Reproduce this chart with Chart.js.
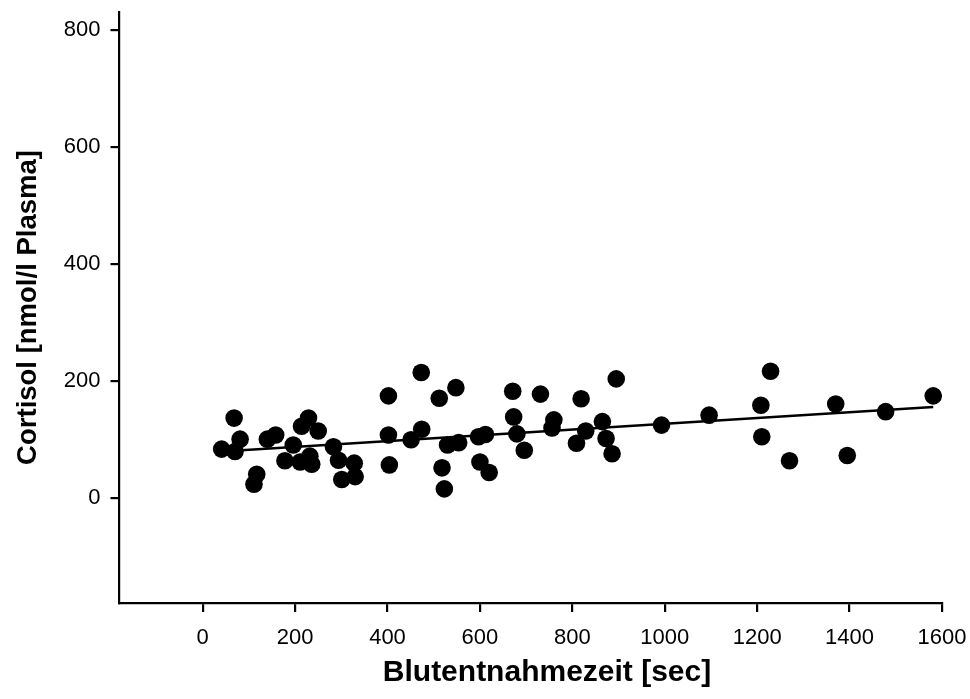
<!DOCTYPE html>
<html>
<head>
<meta charset="utf-8">
<script src="https://cdn.jsdelivr.net/npm/chart.js@4/dist/chart.umd.min.js"></script>
<style>
  html, body { margin: 0; padding: 0; background: #ffffff; }
  #wrap { width: 970px; height: 699px; }
</style>
</head>
<body>
<div id="wrap"><canvas id="c" width="970" height="699"></canvas></div>
<script>
// Blood sampling time [sec]
const timeSec = [41, 68, 70, 81, 117, 111, 140, 158, 178, 196, 214, 229, 250, 211, 232, 236,
  283, 294, 301, 328, 330, 402, 402, 404, 451, 474, 473, 512, 548, 530, 554, 597, 612,
  518, 523, 600, 620, 671, 673, 680, 696, 731, 760, 756, 819, 809, 829, 895, 865, 873,
  886, 993, 1096, 1229, 1208, 1210, 1270, 1370, 1395, 1478, 1581];
// Cortisol [nmol/l Plasma]
const cortisol = [84, 137, 80, 101, 41, 24, 101, 108, 64, 91, 123, 137, 115, 62, 72, 58,
  88, 65, 32, 60, 37, 175, 108, 57, 100, 118, 215, 171, 189, 91, 95, 105, 109,
  52, 16, 62, 44, 183, 139, 110, 82, 178, 134, 120, 170, 94, 115, 204, 131, 102,
  76, 125, 142, 217, 159, 105, 64, 161, 73, 148, 175];
// Regression line end points
const fitX = [41, 1581];
const fitY = [80, 156];
// Axis ticks
const xTicks = [0, 200, 400, 600, 800, 1000, 1200, 1400, 1600];
const yTicks = [0, 200, 400, 600, 800];
const xTitle = 'Blutentnahmezeit [sec]';
const yTitle = 'Cortisol [nmol/l Plasma]';

const FONT = "'Liberation Sans', Arial, Helvetica, sans-serif";

const scatterData = timeSec.map((x, i) => ({ x: x, y: cortisol[i] }));
const fitData = fitX.map((x, i) => ({ x: x, y: fitY[i] }));

const xTitlePlugin = {
  id: 'xTitlePlugin',
  afterDraw(chart) {
    const ctx = chart.ctx;
    ctx.save();
    ctx.fillStyle = '#000';
    ctx.font = "bold 30px " + FONT;
    ctx.textAlign = 'center';
    ctx.textBaseline = 'middle';
    ctx.fillText(xTitle, 547, 673);
    ctx.restore();
  }
};

function noPad(s) {
  s.paddingTop = 0; s.paddingBottom = 0; s.paddingLeft = 0; s.paddingRight = 0;
}

new Chart(document.getElementById('c'), {
  type: 'scatter',
  data: {
    datasets: [
      {
        type: 'line',
        data: fitData,
        borderColor: '#000',
        borderWidth: 2.6,
        pointRadius: 0,
        fill: false,
        order: 2
      },
      {
        data: scatterData,
        backgroundColor: '#000',
        borderColor: '#000',
        borderWidth: 0,
        pointRadius: 8.8,
        order: 1
      }
    ]
  },
  options: {
    responsive: false,
    animation: false,
    devicePixelRatio: 1,
    layout: { padding: { left: 0, right: 28, top: 12, bottom: 0 } },
    plugins: { legend: { display: false }, tooltip: { enabled: false }, title: { display: false } },
    scales: {
      x: {
        type: 'linear',
        min: -180,
        max: 1600,
        afterBuildTicks: (s) => { s.ticks = xTicks.map(v => ({ value: v })); },
        afterFit: (s) => { s.height = 96; noPad(s); },
        border: { display: true, color: '#000', width: 2.2 },
        grid: { display: true, drawOnChartArea: false, drawTicks: true, tickLength: 9, color: '#000', lineWidth: 2.2 },
        ticks: { color: '#000', font: { family: FONT, size: 22 }, padding: 13, maxRotation: 0, autoSkip: false,
                 callback: (v) => String(v) }
      },
      y: {
        type: 'linear',
        min: -179,
        max: 831,
        afterBuildTicks: (s) => { s.ticks = yTicks.map(v => ({ value: v })); },
        afterFit: (s) => { s.width = 119.5; noPad(s); },
        border: { display: true, color: '#000', width: 2.2 },
        grid: { display: true, drawOnChartArea: false, drawTicks: true, tickLength: 9, color: '#000', lineWidth: 2.2 },
        ticks: { color: '#000', font: { family: FONT, size: 22 }, padding: 10, autoSkip: false,
                 callback: (v) => String(v) },
        title: { display: true, text: yTitle, color: '#000', font: { family: FONT, size: 27.5, weight: 'bold' }, padding: { top: 12, bottom: 0 } }
      }
    }
  },
  plugins: [xTitlePlugin]
});
</script>
</body>
</html>
